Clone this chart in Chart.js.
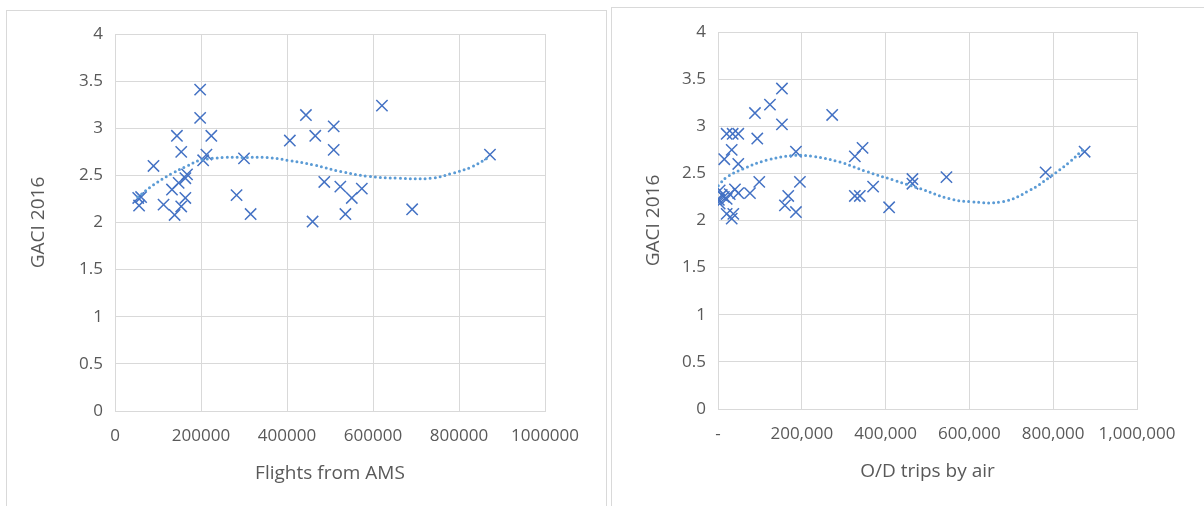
<!DOCTYPE html>
<html>
<head>
<meta charset="utf-8">
<script src="https://cdn.jsdelivr.net/npm/chart.js@4.4.1/dist/chart.umd.min.js"></script>
<style>
  body { margin: 0; width: 1204px; height: 506px; overflow: hidden; background: #fff; position: relative; }
  .panel { position: absolute; border: 1px solid #d9d9d9; background: #fff; }
  #panel-left { left: 6px; top: 10px; width: 599px; height: 520px; }
  #panel-right { left: 611px; top: 7px; width: 600px; height: 520px; }
  canvas { position: absolute; top: 0; }
  #grafico-voos { left: 0; }
  #grafico-viagens { left: 606px; }
</style>
</head>
<body>
<div class="panel" id="panel-left"></div>
<div class="panel" id="panel-right"></div>
<canvas id="grafico-voos" width="606" height="506"></canvas>
<canvas id="grafico-viagens" width="598" height="506"></canvas>
<script>
// left chart: flights from AMS vs GACI 2016
const flightsX = [198000, 198000, 144000, 224000, 154000, 89500, 212600, 205000, 300000, 406600,
  444000, 465700, 508600, 508600, 620800, 486700, 524000, 550700, 574000, 535800,
  459500, 282700, 315400, 691000, 872000, 54000, 60700, 56000, 112900, 132500,
  148000, 163600, 167500, 163600, 154000, 138600];
const flightsY = [3.41, 3.11, 2.92, 2.92, 2.75, 2.60, 2.72, 2.66, 2.68, 2.87,
  3.14, 2.92, 3.02, 2.77, 3.24, 2.43, 2.38, 2.26, 2.36, 2.09,
  2.01, 2.29, 2.09, 2.14, 2.72, 2.26, 2.27, 2.18, 2.19, 2.35,
  2.42, 2.47, 2.51, 2.26, 2.17, 2.08];

// trendline
const flightsTrendX = [53000, 89500, 132500, 167500, 198600, 253000, 300000, 354500, 401200, 463300,
  525700, 588100, 658200, 736000, 782700, 829400, 872200];
const flightsTrendY = [2.27, 2.40, 2.52, 2.60, 2.66, 2.69, 2.69, 2.69, 2.66, 2.61,
  2.54, 2.49, 2.47, 2.47, 2.52, 2.59, 2.70];

// right chart: O/D trips by air vs GACI 2016
const tripsX = [152600, 124000, 88200, 152600, 272500, 20700, 35000, 48400, 93700, 32700,
  15000, 48400, 186000, 98500, 195500, 76300, 167600, 159700, 186000, 326600,
  345000, 326600, 338500, 370200, 408400, 464000, 464000, 545200, 781900, 875000,
  4000, 9000, 2000, 14000, 4000, 20700, 40500, 48400, 20700, 32700, 36500, 28000];
const tripsY = [3.40, 3.23, 3.14, 3.02, 3.12, 2.92, 2.92, 2.92, 2.87, 2.75,
  2.65, 2.60, 2.73, 2.41, 2.41, 2.29, 2.26, 2.16, 2.09, 2.68,
  2.77, 2.26, 2.26, 2.36, 2.14, 2.44, 2.39, 2.46, 2.51, 2.73,
  2.32, 2.27, 2.22, 2.25, 2.18, 2.23, 2.33, 2.29, 2.07, 2.02, 2.07, 2.28];

const tripsTrendX = [700, 20700, 60300, 116100, 179500, 227200, 290800, 354500, 418000, 481500,
  553000, 600700, 680100, 743800, 791500, 839100, 870900];
const tripsTrendY = [2.37, 2.46, 2.55, 2.64, 2.69, 2.68, 2.62, 2.52, 2.43, 2.34,
  2.23, 2.20, 2.20, 2.32, 2.46, 2.62, 2.75];

const xTicks = [0, 200000, 400000, 600000, 800000, 1000000];
const yTicks = [0, 0.5, 1, 1.5, 2, 2.5, 3, 3.5, 4];

const fonte = "'Open Sans', Lato, sans-serif";
const corTexto = '#595959';
const corGrade = '#d9d9d9';

function pares(xs, ys) {
  return xs.map((x, i) => ({ x: x, y: ys[i] }));
}

function criarGrafico(idCanvas, xs, ys, trendX, trendY, tituloX, formatoX, lay) {
  const ctx = document.getElementById(idCanvas).getContext('2d');
  return new Chart(ctx, {
    type: 'scatter',
    data: {
      datasets: [{
        data: pares(trendX, trendY),
        showLine: true,
        borderColor: '#5b9bd5',
        borderWidth: 3,
        borderDash: [0, 5],
        borderCapStyle: 'round',
        tension: 0.4,
        pointRadius: 0,
        fill: false
      }, {
        data: pares(xs, ys),
        pointStyle: 'crossRot',
        pointRadius: 8,
        pointBorderColor: '#4472c4',
        pointBorderWidth: 1.5,
        showLine: false
      }]
    },
    options: {
      responsive: false,
      animation: false,
      events: [],
      layout: { padding: { left: lay.padL, right: lay.padR, top: lay.padT, bottom: lay.padB } },
      plugins: { legend: { display: false }, tooltip: { enabled: false } },
      scales: {
        x: {
          type: 'linear',
          min: 0,
          max: 1000000,
          afterFit: function (scale) { scale.height = lay.xH; },
          afterBuildTicks: function (scale) {
            scale.ticks = xTicks.map(v => ({ value: v }));
          },
          grid: { color: corGrade, lineWidth: 1, drawTicks: false },
          border: { color: corGrade, width: 1 },
          ticks: {
            padding: 15,
            color: corTexto,
            font: { family: fonte, size: 17 },
            maxRotation: 0,
            autoSkip: false,
            callback: formatoX
          },
          title: {
            display: true,
            text: tituloX,
            color: corTexto,
            font: { family: fonte, size: 19 }
          }
        },
        y: {
          type: 'linear',
          min: 0,
          max: 4,
          afterFit: function (scale) { scale.width = lay.yW; },
          afterBuildTicks: function (scale) {
            scale.ticks = yTicks.map(v => ({ value: v }));
          },
          grid: { color: corGrade, lineWidth: 1, drawTicks: false },
          border: { color: corGrade, width: 1 },
          ticks: {
            padding: 12,
            color: corTexto,
            font: { family: fonte, size: 17 },
            callback: v => String(v)
          },
          title: {
            display: true,
            text: 'GACI 2016',
            color: corTexto,
            font: { family: fonte, size: 19 }
          }
        }
      }
    }
  });
}

criarGrafico('grafico-voos', flightsX, flightsY, flightsTrendX, flightsTrendY,
  'Flights from AMS', v => String(v),
  { padL: 23, padR: 61, padT: 34, padB: 17, yW: 92, xH: 78 });

criarGrafico('grafico-viagens', tripsX, tripsY, tripsTrendX, tripsTrendY,
  'O/D trips by air', v => (v === 0 ? '-' : v.toLocaleString('en-US')),
  { padL: 32, padR: 67, padT: 32, padB: 19, yW: 80, xH: 78 });
</script>
</body>
</html>
